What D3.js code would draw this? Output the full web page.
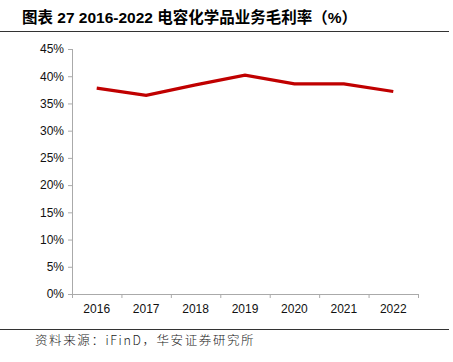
<!DOCTYPE html>
<html>
<head>
<meta charset="utf-8">
<script src="https://cdn.jsdelivr.net/npm/d3@7"></script>
<style>
body { margin: 0; background: #fff; }
svg { display: block; font-family: Arial, "Liberation Sans", "Noto Sans CJK SC", sans-serif; }
</style>
</head>
<body>
<svg width="453" height="362"></svg>
<script>
var years = ['2016', '2017', '2018', '2019', '2020', '2021', '2022'];
var margin = [37.8, 36.5, 38.4, 40.2, 38.6, 38.6, 37.2];
var yTicks = [0, 5, 10, 15, 20, 25, 30, 35, 40, 45];

var svg = d3.select('svg');
var padding = {t: 49, r: 35, b: 68, l: 72};
var chartWidth = 453 - padding.l - padding.r;
var chartHeight = 362 - padding.t - padding.b;

var chartG = svg.append('g')
    .attr('transform', 'translate(' + [padding.l, padding.t] + ')');

// title + rules
svg.append('text')
    .attr('x', 22)
    .attr('y', 23)
    .style('font-size', '15.5px')
    .style('font-weight', 'bold')
    .style('font-family', '"Liberation Sans", Arial, "Noto Sans CJK SC", sans-serif')
    .text('图表 27 2016-2022 电容化学品业务毛利率（%）');

svg.append('line')
    .attr('x1', 0).attr('x2', 449)
    .attr('y1', 31.5).attr('y2', 31.5)
    .attr('stroke', '#333').attr('stroke-width', 1);

svg.append('line')
    .attr('x1', 0).attr('x2', 449)
    .attr('y1', 329.5).attr('y2', 329.5)
    .attr('stroke', '#333').attr('stroke-width', 1);

svg.append('text')
    .attr('x', 35)
    .attr('y', 345)
    .style('font-size', '12.5px')
    .style('letter-spacing', '1.6px')
    .style('font-family', '"Noto Sans CJK SC", sans-serif')
    .style('font-weight', '300')
    .style('fill', '#222')
    .text('资料来源：iFinD，华安证券研究所');

var x = d3.scaleBand().domain(years).range([0, chartWidth]);
var y = d3.scaleLinear().domain([0, 45]).range([chartHeight, 0]);

// y axis
var yAxis = chartG.append('g')
    .call(d3.axisLeft(y).tickValues(yTicks).tickSize(4).tickFormat(function(d) { return d + '%'; }));
yAxis.select('.domain').attr('stroke', '#aaa').attr('d', 'M0.5,0V' + chartHeight);
yAxis.selectAll('.tick line').attr('stroke', '#aaa');
yAxis.selectAll('.tick text').attr('x', -8).style('font-size', '12px').style('fill', '#111');

// x axis
var xAxis = chartG.append('g')
    .attr('transform', 'translate(0,' + chartHeight + ')')
    .call(d3.axisBottom(x).tickSize(0).tickPadding(10));
xAxis.select('.domain').attr('stroke', '#aaa').attr('d', 'M0,0.5H' + chartWidth);
xAxis.selectAll('.tick text').style('font-size', '12px').style('fill', '#111');

// ticks between categories
chartG.append('g').selectAll('line')
    .data(years.concat(['end']))
    .enter().append('line')
    .attr('x1', function(d, i) { return i * x.step() + 0.5; })
    .attr('x2', function(d, i) { return i * x.step() + 0.5; })
    .attr('y1', chartHeight)
    .attr('y2', chartHeight + 4)
    .attr('stroke', '#aaa');

var line = d3.line()
    .x(function(d, i) { return x(years[i]) + x.bandwidth() / 2; })
    .y(function(d) { return y(d); });

chartG.append('path')
    .datum(margin)
    .attr('d', line)
    .attr('fill', 'none')
    .attr('stroke', '#C00000')
    .attr('stroke-width', 3.2);
</script>
</body>
</html>
